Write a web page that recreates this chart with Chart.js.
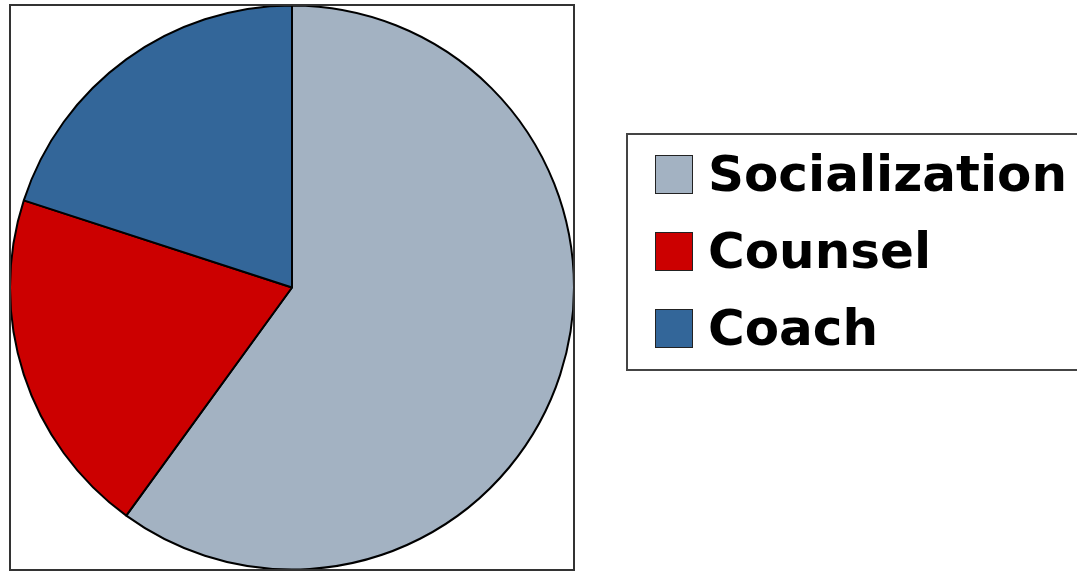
<!DOCTYPE html>
<html>
<head>
<meta charset="utf-8">
<script src="https://cdn.jsdelivr.net/npm/chart.js@4.4.0/dist/chart.umd.min.js"></script>
<style>
  html, body { margin: 0; padding: 0; background: #fff; width: 1077px; height: 572px; overflow: hidden; }
  #frame { position: absolute; left: 9px; top: 4px; width: 562px; height: 563px; border: 2px solid #333; }
  #pieWrap { position: absolute; left: 9px; top: 4px; width: 566px; height: 567px; }
  #legend { position: absolute; left: 626px; top: 133px; width: 460px; height: 234px; border: 2px solid #444; box-sizing: content-box; }
  .row { position: absolute; left: 27px; display: flex; align-items: center; font-family: "DejaVu Sans", Verdana, sans-serif; font-weight: bold; font-size: 50px; color: #000; }
  .sw { width: 36px; height: 37px; border: 1.5px solid #222; margin-right: 15px; }
</style>
</head>
<body>
<div id="pieWrap"><canvas id="pie"></canvas></div>
<div id="frame"></div>
<div id="legend"></div>
<script>
const labels = ['Socialization', 'Counsel', 'Coach'];
const values = [60, 20, 20];
const colors = ['#A3B2C2', '#CC0000', '#336699'];

new Chart(document.getElementById('pie'), {
  type: 'pie',
  data: {
    labels: labels,
    datasets: [{
      data: values,
      backgroundColor: colors,
      borderColor: '#000',
      borderWidth: 2
    }]
  },
  options: {
    responsive: true,
    maintainAspectRatio: false,
    animation: false,
    events: [],
    plugins: { legend: { display: false }, tooltip: { enabled: false } }
  }
});

// legend rows
let legend = document.getElementById('legend');
labels.forEach(function (lab, i) {
  let row = document.createElement('div');
  row.className = 'row';
  row.style.top = (10 + i * 77) + 'px';
  let sw = document.createElement('div');
  sw.className = 'sw';
  sw.style.background = colors[i];
  let txt = document.createElement('span');
  txt.textContent = lab;
  row.appendChild(sw);
  row.appendChild(txt);
  legend.appendChild(row);
});
</script>
</body>
</html>
